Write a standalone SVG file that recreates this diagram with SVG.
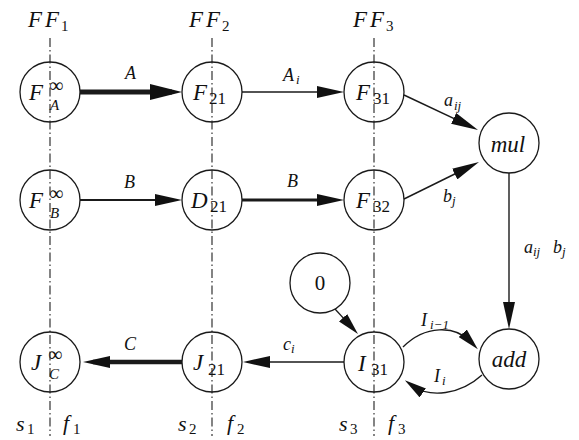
<svg xmlns="http://www.w3.org/2000/svg" width="579" height="440" viewBox="0 0 579 440">
<defs>
<style>
.guide{stroke:#333;stroke-width:1.2;fill:none;stroke-dasharray:9 3 1.5 3}
.nd{fill:none;stroke:#1a1a1a;stroke-width:1.3}
.ed{fill:none;stroke:#1a1a1a}
text{font-family:"Liberation Serif","DejaVu Serif",serif;fill:#111}
.it{font-style:italic}
.big{font-size:23px}
.sub{font-size:15px}
.ns{font-size:17px}
.lbl{font-size:18px}
.ls{font-size:13px}
.inf{font-size:20px}
.sf{font-size:22px;font-style:italic}
</style>
<marker id="big" viewBox="0 0 32 16" markerWidth="32" markerHeight="16" refX="22" refY="8" markerUnits="userSpaceOnUse" orient="auto"><path d="M0,0 L32,8 L0,16 z" fill="#111"/></marker>
<marker id="mid" viewBox="0 0 27 12" markerWidth="27" markerHeight="12" refX="17" refY="6" markerUnits="userSpaceOnUse" orient="auto"><path d="M0,0 L27,6 L0,12 z" fill="#111"/></marker>
<marker id="sm" viewBox="0 0 22 11" markerWidth="22" markerHeight="11" refX="12" refY="5.5" markerUnits="userSpaceOnUse" orient="auto"><path d="M0,0 L22,5.5 L0,11 z" fill="#111"/></marker>
</defs>
<rect width="579" height="440" fill="#fff"/>

<g id="guides">
<line class="guide" x1="50" y1="38" x2="50" y2="436"/>
<line class="guide" x1="212" y1="38" x2="212" y2="436"/>
<line class="guide" x1="374" y1="38" x2="374" y2="436"/>
<text class="it big" x="28" y="27">F</text><text class="it big" x="45" y="27">F</text><text class="sub" x="61" y="31">1</text>
<text class="it big" x="189" y="27">F</text><text class="it big" x="206" y="27">F</text><text class="sub" x="222" y="31">2</text>
<text class="it big" x="353" y="27">F</text><text class="it big" x="370" y="27">F</text><text class="sub" x="386" y="31">3</text>
<text class="sf" x="16" y="431">s</text><text class="sub" x="27" y="434">1</text>
<text class="sf" x="63" y="430">f</text><text class="sub" x="73" y="434">1</text>
<text class="sf" x="178" y="431">s</text><text class="sub" x="189" y="434">2</text>
<text class="sf" x="227" y="430">f</text><text class="sub" x="237" y="434">2</text>
<text class="sf" x="339" y="431">s</text><text class="sub" x="350" y="434">3</text>
<text class="sf" x="388" y="430">f</text><text class="sub" x="398" y="434">3</text>
</g>

<g id="edges">
<line class="ed" stroke-width="5" x1="80" y1="92" x2="172" y2="92" marker-end="url(#big)"/>
<text class="it lbl" x="125" y="79">A</text>
<line class="ed" stroke-width="1.6" x1="242" y1="92" x2="334" y2="92" marker-end="url(#mid)"/>
<text class="it lbl" x="283" y="81">A</text><text class="it ls" x="296" y="84">i</text>
<line class="ed" stroke-width="2" x1="80" y1="200" x2="172" y2="200" marker-end="url(#mid)"/>
<text class="it lbl" x="124" y="188">B</text>
<line class="ed" stroke-width="3" x1="242" y1="200" x2="334" y2="200" marker-end="url(#mid)"/>
<text class="it lbl" x="287" y="187">B</text>
<line class="ed" stroke-width="1.4" x1="404" y1="95" x2="469" y2="125.7" marker-end="url(#mid)"/>
<text class="it lbl" x="444" y="106">a</text><text class="it ls" x="454" y="110">ij</text>
<line class="ed" stroke-width="1.4" x1="404" y1="199" x2="470" y2="166.5" marker-end="url(#mid)"/>
<text class="it lbl" x="443" y="202">b</text><text class="it ls" x="452" y="205">j</text>
<line class="ed" stroke-width="1.4" x1="509" y1="173" x2="509" y2="319" marker-end="url(#mid)"/>
<text class="it lbl" x="524" y="253">a</text><text class="it ls" x="533" y="256">ij</text><text class="it lbl" x="553" y="253">b</text><text class="it ls" x="562" y="256">j</text>
<line class="ed" stroke-width="1.3" x1="335" y1="309" x2="351.2" y2="326.6" marker-end="url(#sm)"/>
<line class="ed" stroke-width="1.4" x1="344" y1="362" x2="253" y2="362" marker-end="url(#mid)"/>
<text class="it lbl" x="283" y="350">c</text><text class="it ls" x="291" y="353">i</text>
<line class="ed" stroke-width="4.5" x1="182" y1="362" x2="93" y2="362" marker-end="url(#mid)"/>
<text class="it lbl" x="124" y="350">C</text>
<path class="ed" stroke-width="1.4" d="M403,347 C425,325 455,325 471,342" marker-end="url(#sm)"/>
<text class="it lbl" x="421" y="326">I</text><text class="it ls" x="430" y="329">i−1</text>
<path class="ed" stroke-width="1.4" d="M482,375 C460,395 430,398 413,386" marker-end="url(#sm)"/>
<text class="it lbl" x="434" y="382">I</text><text class="it ls" x="442" y="385">i</text>
</g>

<g id="FA">
<circle class="nd" cx="50" cy="92" r="30"/>
<text class="it big" x="29" y="100">F</text><text class="inf" x="49" y="92">∞</text><text class="it sub" x="50" y="110">A</text>
</g>
<g id="F21">
<circle class="nd" cx="212" cy="92" r="30"/>
<text class="it big" x="193" y="100">F</text><text class="ns" x="209" y="104">21</text>
</g>
<g id="F31">
<circle class="nd" cx="374" cy="92" r="30"/>
<text class="it big" x="356" y="100">F</text><text class="ns" x="373" y="104">31</text>
</g>
<g id="FB">
<circle class="nd" cx="50" cy="200" r="30"/>
<text class="it big" x="29" y="208">F</text><text class="inf" x="49" y="200">∞</text><text class="it sub" x="50" y="218">B</text>
</g>
<g id="D21">
<circle class="nd" cx="212" cy="200" r="30"/>
<text class="it big" x="191" y="208">D</text><text class="ns" x="210" y="212">21</text>
</g>
<g id="F32">
<circle class="nd" cx="374" cy="200" r="30"/>
<text class="it big" x="356" y="208">F</text><text class="ns" x="373" y="212">32</text>
</g>
<g id="mul">
<circle class="nd" cx="509" cy="143" r="30"/>
<text class="it big" x="508" y="152" text-anchor="middle">mul</text>
</g>
<g id="zero">
<circle class="nd" cx="320" cy="283" r="30"/>
<text font-size="21" x="320" y="290" text-anchor="middle">0</text>
</g>
<g id="JC">
<circle class="nd" cx="50" cy="362" r="30"/>
<text class="it big" x="31" y="370">J</text><text class="inf" x="48" y="361">∞</text><text class="it sub" x="49" y="379">C</text>
</g>
<g id="J21">
<circle class="nd" cx="212" cy="362" r="30"/>
<text class="it big" x="193" y="370">J</text><text class="ns" x="208" y="375">21</text>
</g>
<g id="I31">
<circle class="nd" cx="374" cy="362" r="30"/>
<text class="it big" x="358" y="371">I</text><text class="ns" x="371" y="375">31</text>
</g>
<g id="add">
<circle class="nd" cx="509" cy="359" r="30"/>
<text class="it big" x="509" y="367" text-anchor="middle">add</text>
</g>
</svg>
